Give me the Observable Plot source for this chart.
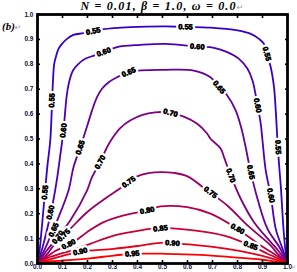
<!DOCTYPE html>
<html><head><meta charset="utf-8">
<script src="https://cdn.jsdelivr.net/npm/d3@7"></script>
<script src="https://cdn.jsdelivr.net/npm/@observablehq/plot@0.6"></script>
<style>
html,body{margin:0;padding:0;background:#fff;}
#wrap{position:relative;width:297px;height:272px;overflow:hidden;}
#chart{position:absolute;left:0;top:0;}
#title{position:absolute;left:37px;width:250px;top:0px;text-align:center;font:italic bold 12px "Liberation Serif",serif;letter-spacing:1.2px;white-space:nowrap;line-height:13px;color:#000;}
.ret{font:normal 8px "DejaVu Sans",sans-serif;color:#9a9a9a;letter-spacing:0;}
#panel{position:absolute;left:2px;top:21px;font:italic bold 11px "Liberation Serif",serif;line-height:11px;white-space:nowrap;}
#ret2{position:absolute;left:291px;top:263px;font-size:6px;}
</style></head><body>
<div id="wrap">
<div id="chart"></div>
<div id="title">N = 0.01, β = 1.0, ω = 0.0<span class="ret">↵</span></div>
<div id="panel">(b)<span class="ret">↵</span></div>
<div id="ret2" class="ret">↵</div>
</div>
<script>
// contour levels
const levels = [0.55, 0.60, 0.65, 0.70, 0.75, 0.80, 0.85, 0.90, 0.95];

// traced contour lines (x, y)
const line055 = [[0,0],[0.009,0.059],[0.015,0.120],[0.027,0.253],[0.039,0.386],[0.051,0.494],[0.057,0.614],[0.062,0.735],[0.067,0.803],[0.075,0.835],[0.084,0.862],[0.098,0.882],[0.118,0.902],[0.144,0.918],[0.184,0.925],[0.258,0.940],[0.372,0.949],[0.512,0.952],[0.592,0.950],[0.692,0.947],[0.800,0.936],[0.853,0.922],[0.886,0.902],[0.906,0.882],[0.917,0.842],[0.933,0.788],[0.946,0.708],[0.953,0.614],[0.959,0.507],[0.965,0.414],[0.973,0.313],[0.984,0.139],[0.991,0.059],[1,0]];
const line060 = [[0,0],[0.019,0.060],[0.062,0.246],[0.078,0.340],[0.091,0.434],[0.104,0.534],[0.111,0.614],[0.118,0.682],[0.128,0.735],[0.142,0.775],[0.164,0.802],[0.191,0.822],[0.225,0.835],[0.265,0.849],[0.318,0.869],[0.412,0.878],[0.512,0.882],[0.639,0.871],[0.706,0.866],[0.759,0.849],[0.806,0.822],[0.840,0.782],[0.860,0.735],[0.880,0.635],[0.893,0.561],[0.900,0.494],[0.913,0.373],[0.933,0.273],[0.953,0.139],[0.981,0.057],[1,0]];
const line065 = [[0,0],[0.027,0.053],[0.079,0.173],[0.124,0.293],[0.144,0.387],[0.171,0.466],[0.198,0.550],[0.218,0.614],[0.238,0.668],[0.258,0.702],[0.285,0.728],[0.318,0.748],[0.372,0.771],[0.512,0.778],[0.625,0.775],[0.692,0.748],[0.726,0.708],[0.759,0.675],[0.793,0.614],[0.815,0.545],[0.830,0.480],[0.853,0.367],[0.880,0.260],[0.920,0.139],[0.968,0.065],[1,0]];
const line070 = [[0,0],[0.035,0.049],[0.131,0.173],[0.198,0.293],[0.218,0.347],[0.251,0.407],[0.278,0.467],[0.304,0.510],[0.332,0.545],[0.372,0.575],[0.420,0.597],[0.470,0.607],[0.520,0.607],[0.585,0.590],[0.639,0.561],[0.679,0.521],[0.692,0.501],[0.733,0.461],[0.746,0.427],[0.773,0.353],[0.813,0.260],[0.866,0.166],[0.933,0.086],[0.965,0.049],[1,0]];
const line075 = [[0,0],[0.042,0.042],[0.064,0.072],[0.131,0.139],[0.198,0.206],[0.278,0.266],[0.318,0.293],[0.365,0.327],[0.399,0.350],[0.450,0.364],[0.492,0.367],[0.545,0.364],[0.600,0.350],[0.679,0.293],[0.759,0.233],[0.840,0.153],[0.933,0.072],[0.958,0.042],[1,0]];
const line080 = [[0,0],[0.049,0.035],[0.071,0.050],[0.144,0.086],[0.198,0.126],[0.265,0.166],[0.345,0.193],[0.439,0.213],[0.492,0.229],[0.599,0.226],[0.692,0.200],[0.800,0.139],[0.893,0.072],[0.951,0.035],[1,0]];
const line085 = [[0,0],[0.053,0.027],[0.144,0.055],[0.211,0.079],[0.305,0.112],[0.412,0.133],[0.492,0.143],[0.625,0.133],[0.746,0.112],[0.853,0.072],[0.920,0.039],[0.947,0.027],[1,0]];
const line090 = [[0,0],[0.057,0.019],[0.104,0.032],[0.171,0.048],[0.305,0.059],[0.412,0.072],[0.492,0.083],[0.625,0.075],[0.759,0.059],[0.866,0.039],[0.943,0.019],[1,0]];
const line095 = [[0,0],[0.059,0.009],[0.104,0.012],[0.211,0.021],[0.305,0.032],[0.379,0.039],[0.512,0.039],[0.652,0.035],[0.786,0.025],[0.893,0.016],[0.941,0.009],[1,0]];

// inline contour labels (level and where it sits)
const labelLevel = [0.55,0.55,0.55,0.55,0.55,0.55, 0.60,0.60,0.60,0.60,0.60,0.60, 0.65,0.65,0.65,0.65,0.65, 0.70,0.70,0.70,0.70, 0.75,0.75,0.75, 0.80,0.80,0.80, 0.85,0.85, 0.90,0.90, 0.95];
const labelX = [0.592,0.223,0.058,0.030,0.917,0.962, 0.265,0.639,0.104,0.880,0.933,0.052, 0.365,0.726,0.171,0.853,0.065, 0.532,0.251,0.773,0.082, 0.365,0.692,0.105, 0.439,0.800,0.125, 0.492,0.853, 0.171,0.540, 0.379];
const labelY = [0.950,0.933,0.655,0.286,0.842,0.467, 0.849,0.871,0.534,0.635,0.273,0.205, 0.768,0.708,0.466,0.367,0.135, 0.605,0.407,0.353,0.105, 0.327,0.285,0.113, 0.213,0.139,0.077, 0.141,0.072, 0.048,0.082, 0.039];

// axis ticks
const tickValues = [0,0.1,0.2,0.3,0.4,0.5,0.6,0.7,0.8,0.9,1.0];

const W = 297, H = 272, mL = 37, mR = 10, mT = 14, mB = 9;
const kx = W - mL - mR, ky = H - mT - mB;

const contourLines = [line055, line060, line065, line070, line075, line080, line085, line090, line095];
const rows = contourLines.flatMap((pts, k) => pts.map(([x, y]) => ({level: levels[k], x, y})));

function segDist(px, py, ax, ay, bx, by) {
  const dx = bx - ax, dy = by - ay;
  const L = dx*dx + dy*dy || 1;
  let t = ((px-ax)*dx + (py-ay)*dy) / L;
  t = Math.max(0, Math.min(1, t));
  const qx = ax + t*dx - px, qy = ay + t*dy - py;
  return qx*qx + qy*qy;
}
const labels = labelLevel.map((lev, i) => {
  const pts = contourLines[levels.indexOf(lev)];
  const px = labelX[i]*kx, py = -labelY[i]*ky;
  let best = Infinity, ang = 0;
  for (let j = 0; j < pts.length - 1; j++) {
    const ax = pts[j][0]*kx, ay = -pts[j][1]*ky, bx = pts[j+1][0]*kx, by = -pts[j+1][1]*ky;
    const d = segDist(px, py, ax, ay, bx, by);
    if (d < best) { best = d; ang = Math.atan2(by - ay, bx - ax) * 180 / Math.PI; }
  }
  if (ang > 90) ang -= 180;
  if (ang < -90) ang += 180;
  return {level: lev, x: labelX[i], y: labelY[i], rotate: ang};
});

const fmt = d3.format(".1f");
const labelText = d => d.level.toFixed(2);
const chart = Plot.plot({
  width: W, height: H,
  marginLeft: mL, marginRight: mR, marginTop: mT, marginBottom: mB,
  x: {domain: [0, 1], label: null},
  y: {domain: [0, 1], label: null},
  color: {type: "linear", domain: [0.55, 0.95], range: ["#3300cc", "#ff0000"]},
  style: {background: "white", fontFamily: "'Liberation Sans', Arial, sans-serif", overflow: "visible"},
  marks: [
    Plot.line(rows, {x: "x", y: "y", z: "level", stroke: "level", strokeWidth: 1.8, curve: "catmull-rom"}),
    Plot.text(labels, {x: "x", y: "y", text: labelText, rotate: "rotate", fill: "black", stroke: "white", strokeWidth: 5, paintOrder: "stroke", fontWeight: "bold", fontSize: 7.5}),
    Plot.text(labels, {x: "x", y: "y", text: labelText, rotate: "rotate", fill: "black", stroke: "black", strokeWidth: 0.45, fontWeight: "bold", fontSize: 7.5}),
    Plot.frame({stroke: "black", strokeWidth: 2.8}),
    Plot.axisX(tickValues, {anchor: "bottom", tickSize: 0, tickPadding: 1, tickFormat: fmt, color: "#101040", fontWeight: "bold", fontSize: 6.5, label: null}),
    Plot.axisY(tickValues, {anchor: "left", tickSize: 0, tickPadding: 4, tickFormat: fmt, color: "#101040", fontWeight: "bold", fontSize: 6.5, label: null}),
    Plot.axisX(tickValues, {anchor: "bottom", tickSize: -3, fill: "none", stroke: "black", strokeWidth: 1.6}),
    Plot.axisX(tickValues, {anchor: "top", tickSize: -3, fill: "none", stroke: "black", strokeWidth: 1.6}),
    Plot.axisY(tickValues, {anchor: "left", tickSize: -3, fill: "none", stroke: "black", strokeWidth: 1.6}),
    Plot.axisY(tickValues, {anchor: "right", tickSize: -3, fill: "none", stroke: "black", strokeWidth: 1.6})
  ]
});
document.getElementById("chart").appendChild(chart);
</script>
</body></html>
